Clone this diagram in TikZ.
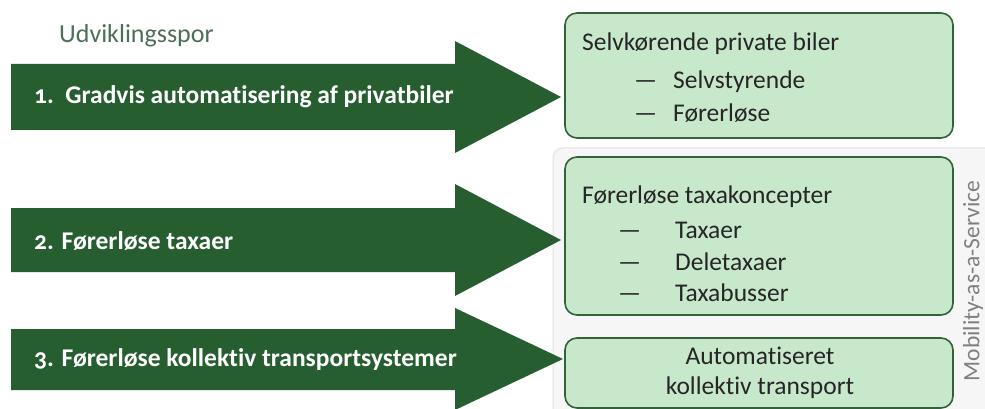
\documentclass[tikz,border=0pt]{standalone}
\usepackage{fontspec}
\setmainfont{Carlito}[Ligatures=NoCommon, Numbers=OldStyle]

\definecolor{trackgreen}{RGB}{38,94,48}
\definecolor{boxgreen}{RGB}{200,232,204}
\definecolor{boxedge}{RGB}{50,98,58}
\definecolor{headgreen}{RGB}{76,112,86}
\definecolor{maasfill}{RGB}{246,246,246}
\definecolor{maasedge}{RGB}{226,226,226}

\tikzset{
  tracklabel/.style={anchor=west, text=white, font=\bfseries\fontsize{25.5}{30}\selectfont, inner sep=0pt},
  sporbox/.style={draw=boxedge, fill=boxgreen, line width=1.6pt, rounded corners=12pt, inner sep=0pt},
  boxtext/.style={anchor=west, font=\fontsize{25.5}{30}\selectfont, text=black!85, inner sep=0pt},
}

\begin{document}
\begin{tikzpicture}[x=1pt,y=-1pt]
        \useasboundingbox (0,0) rectangle (985,409);
        \clip (0,0) rectangle (985,409);
        % Mobility-as-a-Service panel
        \filldraw[draw=maasedge, fill=maasfill, line width=1pt, rounded corners=10pt] (553,148) rectangle (1010,440);
        \node[rotate=90, font=\fontsize{23.5}{28}\selectfont, text=black!50, inner sep=0pt] (maas) at (973,281) {Mobility-as-a-Service};
        % heading
        \node[anchor=west, font=\fontsize{26}{30}\selectfont, text=headgreen, inner sep=0pt] (spor) at (59,36) {Udviklingsspor};
        % the three tracks
        \fill[trackgreen] (11,64) -- (455,64) -- (455,41) -- (561,97) -- (455,153) -- (455,130) -- (11,130) -- cycle;
        \fill[trackgreen] (11,208) -- (455,208) -- (455,184) -- (561,240) -- (455,296) -- (455,272) -- (11,272) -- cycle;
        \fill[trackgreen] (11,329) -- (455,329) -- (455,308) -- (563,359) -- (455,410) -- (455,390) -- (11,390) -- cycle;
        \node[tracklabel] (spor1) at (34,97) {1.\hspace{0.45em}Gradvis automatisering af privatbiler};
        \node[tracklabel] (spor2) at (34,241) {2. Førerløse taxaer};
        \node[tracklabel] (spor3) at (34,360) {3. Førerløse kollektiv transportsystemer};
        % boxes
        \node[sporbox, minimum width=388pt, minimum height=125pt] (privat) at (759,75.5) {};
        \node[sporbox, minimum width=388pt, minimum height=158pt] (taxa) at (759,236) {};
        \node[sporbox, minimum width=388pt, minimum height=70pt] (kollektiv) at (759,373) {};
        \node[boxtext] (privattitel) at (582,44) {Selvkørende private biler};
        \node[boxtext] (privat1) at (634,82) {\makebox[39pt][l]{—}Selvstyrende};
        \node[boxtext] (privat2) at (634,113) {\makebox[39pt][l]{—}Førerløse};
        \node[boxtext] (taxatitel) at (582,197) {Førerløse taxakoncepter};
        \node[boxtext] (taxa1) at (618,230) {\makebox[57pt][l]{—}Taxaer};
        \node[boxtext] (taxa2) at (618,262) {\makebox[57pt][l]{—}Deletaxaer};
        \node[boxtext] (taxa3) at (618,293) {\makebox[57pt][l]{—}Taxabusser};
        \node[font=\fontsize{25.5}{30}\selectfont, text=black!85, align=center, inner sep=0pt] (kollektivtekst) at (760,373) {Automatiseret\\kollektiv transport};
\end{tikzpicture}
\end{document}
